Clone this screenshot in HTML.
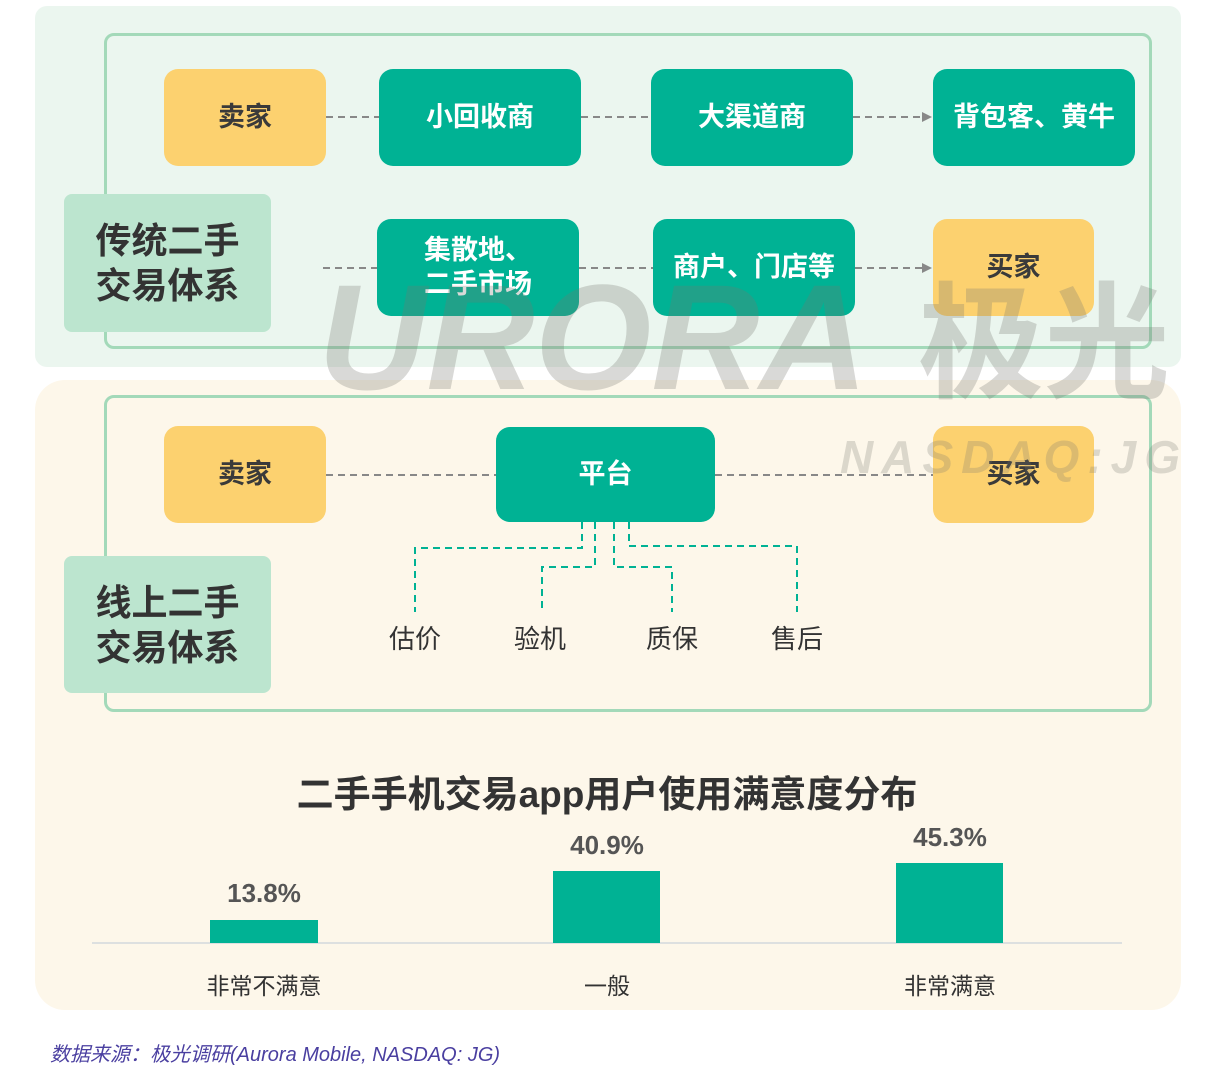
<!DOCTYPE html>
<html><head><meta charset="utf-8"><style>
body{margin:0;width:1214px;height:1080px;background:#fff;position:relative;overflow:hidden;font-family:"Liberation Sans","Noto Sans CJK SC",sans-serif}
.a{position:absolute;box-sizing:border-box}
.b{display:flex;align-items:center;justify-content:center;border-radius:14px;font-weight:bold;font-size:27px;text-align:center;line-height:1.25}
.y{background:#fcd16f;color:#3a3a3a}
.g{background:#00b294;color:#fff}
.l{background:#bce5cf;color:#333;border-radius:8px;font-size:36px;font-weight:bold;display:flex;align-items:center;justify-content:center;line-height:1.25}
.t{font-size:26px;color:#333;transform:translateX(-50%);white-space:nowrap}
.w{white-space:nowrap;line-height:1;font-weight:bold;color:rgba(120,120,110,0.28)}
</style></head><body>
<div class="a" style="left:35px;top:6px;width:1146px;height:361px;background:#ebf6ef;border-radius:12px"></div>
<div class="a" style="left:35px;top:380px;width:1146px;height:630px;background:#fdf7ea;border-radius:30px"></div>
<div class="a" style="left:104px;top:33px;width:1048px;height:316px;border:3px solid #a3d9b9;border-radius:10px"></div>
<div class="a" style="left:104px;top:395px;width:1048px;height:317px;border:3px solid #a3d9b9;border-radius:10px"></div>
<svg class="a" style="left:0;top:0" width="1214" height="1080">
<g stroke="#888" stroke-width="2" stroke-dasharray="7,5" fill="none">
<line x1="326" y1="117" x2="379" y2="117"/><line x1="581" y1="117" x2="651" y2="117"/><line x1="853" y1="117" x2="924" y2="117"/>
<line x1="323" y1="268" x2="377" y2="268"/><line x1="579" y1="268" x2="653" y2="268"/><line x1="855" y1="268" x2="924" y2="268"/>
<line x1="326" y1="475" x2="496" y2="475"/><line x1="715" y1="475" x2="933" y2="475"/>
</g>
<polygon points="922,112 932,117 922,122" fill="#888"/><polygon points="922,263 932,268 922,273" fill="#888"/>
<g stroke="#00b294" stroke-width="2" stroke-dasharray="7,5" fill="none">
<polyline points="582,522 582,548 415,548 415,612"/>
<polyline points="595,522 595,567 542,567 542,612"/>
<polyline points="614,522 614,567 672,567 672,612"/>
<polyline points="629,522 629,546 797,546 797,612"/>
</g>
<line x1="92" y1="943" x2="1122" y2="943" stroke="#dde0e0" stroke-width="2"/>
<rect x="210" y="920" width="108" height="23" fill="#00b294"/>
<rect x="553" y="871" width="107" height="72" fill="#00b294"/>
<rect x="896" y="863" width="107" height="80" fill="#00b294"/>
</svg>
<div class="a b y" style="left:164px;top:69px;width:162px;height:97px">卖家</div>
<div class="a b g" style="left:379px;top:69px;width:202px;height:97px">小回收商</div>
<div class="a b g" style="left:651px;top:69px;width:202px;height:97px">大渠道商</div>
<div class="a b g" style="left:933px;top:69px;width:202px;height:97px">背包客、黄牛</div>
<div class="a b g" style="left:377px;top:219px;width:202px;height:97px">集散地、<br>二手市场</div>
<div class="a b g" style="left:653px;top:219px;width:202px;height:97px">商户、门店等</div>
<div class="a b y" style="left:933px;top:219px;width:161px;height:97px">买家</div>
<div class="a l" style="left:64px;top:194px;width:207px;height:138px">传统二手<br>交易体系</div>
<div class="a b y" style="left:164px;top:426px;width:162px;height:97px">卖家</div>
<div class="a b g" style="left:496px;top:427px;width:219px;height:95px">平台</div>
<div class="a b y" style="left:933px;top:426px;width:161px;height:97px">买家</div>
<div class="a l" style="left:64px;top:556px;width:207px;height:137px">线上二手<br>交易体系</div>
<div class="a t" style="left:415px;top:619px">估价</div>
<div class="a t" style="left:540px;top:619px">验机</div>
<div class="a t" style="left:672px;top:619px">质保</div>
<div class="a t" style="left:797px;top:619px">售后</div>
<div class="a w" style="left:318px;top:262px;font-size:150px;font-style:italic">URORA</div>
<div class="a w" style="left:918px;top:282px;font-size:126px">极光</div>
<div class="a w" style="left:840px;top:434px;font-size:46px;font-style:italic;letter-spacing:8px;color:rgba(120,120,110,0.25)">NASDAQ:JG</div>
<div class="a" style="left:0;width:1214px;top:764px;text-align:center;font-size:37px;font-weight:bold;color:#333;white-space:nowrap">二手手机交易app用户使用满意度分布</div>
<div class="a t" style="left:264px;top:878px;font-weight:bold;color:#555">13.8%</div>
<div class="a t" style="left:607px;top:830px;font-weight:bold;color:#555">40.9%</div>
<div class="a t" style="left:950px;top:822px;font-weight:bold;color:#555">45.3%</div>
<div class="a t" style="left:264px;top:967px;font-size:23px">非常不满意</div>
<div class="a t" style="left:607px;top:967px;font-size:23px">一般</div>
<div class="a t" style="left:950px;top:967px;font-size:23px">非常满意</div>
<div class="a" style="left:50px;top:1038px;font-size:20px;font-style:italic;color:#4a3fa0;white-space:nowrap">数据来源：极光调研(Aurora Mobile, NASDAQ: JG)</div>
</body></html>
